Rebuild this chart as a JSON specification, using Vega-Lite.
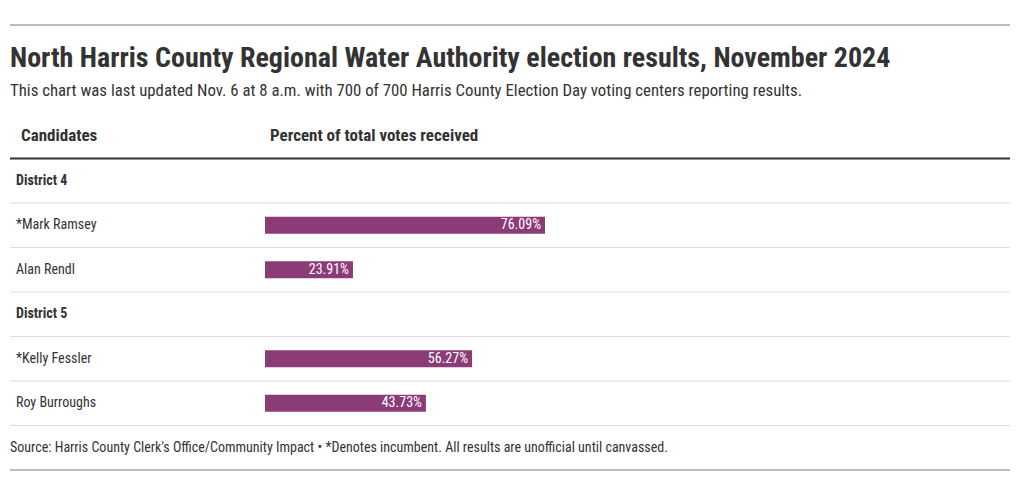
{
  "$schema": "https://vega.github.io/schema/vega-lite/v6.json",
  "autosize": {"type": "none"},
  "padding": {"left": 10, "right": 10, "top": 114, "bottom": 25},
  "width": 1000,
  "height": 356,
  "background": "white",
  "config": {
    "view": {"stroke": null},
    "font": "Roboto Condensed, Liberation Sans Narrow, DejaVu Sans Condensed, sans-serif"
  },
  "title": {
    "text": "North Harris County Regional Water Authority election results, November 2024",
    "subtitle": "This chart was last updated Nov. 6 at 8 a.m. with 700 of 700 Harris County Election Day voting centers reporting results.",
    "anchor": "start",
    "frame": "group",
    "font": "Roboto Condensed, Liberation Sans Narrow, DejaVu Sans Condensed, sans-serif",
    "fontSize": 28,
    "fontWeight": "bold",
    "color": "#333333",
    "subtitleFont": "Roboto Condensed, Liberation Sans Narrow, DejaVu Sans Condensed, sans-serif",
    "subtitleFontSize": 16.8,
    "subtitleColor": "#333333",
    "subtitlePadding": 10,
    "offset": -75
  },
  "datasets": {
    "rows": [
      {"row": 1, "label": "District 4", "kind": "district"},
      {"row": 2, "label": "*Mark Ramsey", "kind": "candidate", "pct": 76.09},
      {"row": 3, "label": "Alan Rendl", "kind": "candidate", "pct": 23.91},
      {"row": 4, "label": "District 5", "kind": "district"},
      {"row": 5, "label": "*Kelly Fessler", "kind": "candidate", "pct": 56.27},
      {"row": 6, "label": "Roy Burroughs", "kind": "candidate", "pct": 43.73}
    ],
    "lines": [
      {"at": -2.5, "style": "outer"},
      {"at": 0.5, "style": "head"},
      {"at": 1.5, "style": "row"},
      {"at": 2.5, "style": "row"},
      {"at": 3.5, "style": "row"},
      {"at": 4.5, "style": "row"},
      {"at": 5.5, "style": "row"},
      {"at": 6.5, "style": "row"},
      {"at": 7.5, "style": "outer"}
    ],
    "headers": [
      {"row": 0, "label": "Candidates", "col": "name"},
      {"row": 0, "label": "Percent of total votes received", "col": "bar"}
    ],
    "notes": [
      {"row": 7, "label": "Source: Harris County Clerk's Office/Community Impact • *Denotes incumbent. All results are unofficial until canvassed."}
    ]
  },
  "resolve": {"scale": {"x": "shared", "y": "shared"}},
  "encoding": {
    "y": {"type": "quantitative", "axis": null, "scale": {"domain": [-0.5, 7.5], "reverse": true, "nice": false, "zero": false, "padding": 0}}
  },
  "layer": [
    {
      "data": {"name": "lines"},
      "transform": [{"filter": "datum.style === 'row'"}],
      "mark": {"type": "rule", "color": "#dddddd", "strokeWidth": 1},
      "encoding": {"y": {"field": "at", "type": "quantitative"}}
    },
    {
      "data": {"name": "lines"},
      "transform": [{"filter": "datum.style === 'outer'"}],
      "mark": {"type": "rule", "color": "#7a7a7a", "strokeWidth": 1},
      "encoding": {"y": {"field": "at", "type": "quantitative"}}
    },
    {
      "data": {"name": "lines"},
      "transform": [{"filter": "datum.style === 'head'"}],
      "mark": {"type": "rule", "color": "#333333", "strokeWidth": 2},
      "encoding": {"y": {"field": "at", "type": "quantitative"}}
    },
    {
      "data": {"name": "headers"},
      "transform": [{"filter": "datum.col === 'name'"}],
      "mark": {"type": "text", "align": "left", "baseline": "middle", "fontSize": 17, "fontWeight": "bold", "color": "#333333"},
      "encoding": {
        "x": {"datum": -66.3, "type": "quantitative", "axis": null, "scale": {"domain": [-69.29, 202.45], "nice": false, "zero": false, "padding": 0}},
        "y": {"field": "row", "type": "quantitative"},
        "text": {"field": "label"}
      }
    },
    {
      "data": {"name": "headers"},
      "transform": [{"filter": "datum.col === 'bar'"}],
      "mark": {"type": "text", "align": "left", "baseline": "middle", "fontSize": 17, "fontWeight": "bold", "color": "#333333"},
      "encoding": {
        "x": {"datum": 1.36, "type": "quantitative"},
        "y": {"field": "row", "type": "quantitative"},
        "text": {"field": "label"}
      }
    },
    {
      "data": {"name": "rows"},
      "transform": [{"filter": "datum.kind === 'district'"}],
      "mark": {"type": "text", "align": "left", "baseline": "middle", "fontSize": 14, "fontWeight": "bold", "color": "#333333"},
      "encoding": {
        "x": {"datum": -67.66, "type": "quantitative"},
        "y": {"field": "row", "type": "quantitative"},
        "text": {"field": "label"}
      }
    },
    {
      "data": {"name": "rows"},
      "transform": [{"filter": "datum.kind === 'candidate'"}],
      "mark": {"type": "text", "align": "left", "baseline": "middle", "fontSize": 14, "color": "#333333"},
      "encoding": {
        "x": {"datum": -67.66, "type": "quantitative"},
        "y": {"field": "row", "type": "quantitative"},
        "text": {"field": "label"}
      }
    },
    {
      "data": {"name": "rows"},
      "transform": [{"filter": "datum.kind === 'candidate'"}],
      "mark": {"type": "bar", "orient": "horizontal", "height": 17, "color": "#8b3c76"},
      "encoding": {
        "x": {"field": "pct", "type": "quantitative"},
        "x2": {"datum": 0},
        "y": {"field": "row", "type": "quantitative"}
      }
    },
    {
      "data": {"name": "rows"},
      "transform": [
        {"filter": "datum.kind === 'candidate'"},
        {"calculate": "format(datum.pct, '.2f') + '%'", "as": "pctLabel"}
      ],
      "mark": {"type": "text", "align": "right", "baseline": "middle", "dx": -4, "fontSize": 14, "color": "white"},
      "encoding": {
        "x": {"field": "pct", "type": "quantitative"},
        "y": {"field": "row", "type": "quantitative"},
        "text": {"field": "pctLabel"}
      }
    },
    {
      "data": {"name": "notes"},
      "mark": {"type": "text", "align": "left", "baseline": "middle", "fontSize": 14, "color": "#333333"},
      "encoding": {
        "x": {"datum": -69.29, "type": "quantitative"},
        "y": {"field": "row", "type": "quantitative"},
        "text": {"field": "label"}
      }
    }
  ]
}
